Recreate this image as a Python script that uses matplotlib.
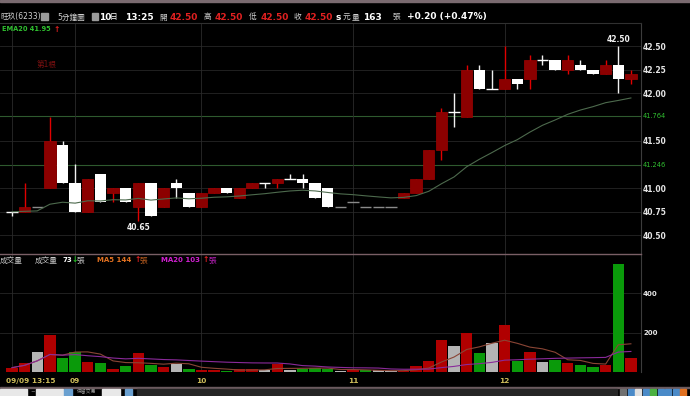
import matplotlib.pyplot as plt
from matplotlib.patches import Rectangle
from matplotlib.transforms import blended_transform_factory
import numpy as np
import pandas as pd

plt.rcParams['font.family'] = ['DejaVu Sans', 'Noto Sans CJK TC']

# 5-minute bars of 旺玖(6233), 09/09 13:15 -> 09/10 13:25
opens = [40.75, 40.75, 40.80, 41.00, 41.45, 41.05, 40.75, 41.15, 40.95, 41.00,
         40.80, 41.05, 40.80, 41.05, 40.95, 40.80, 40.95, 41.00, 40.90, 41.00,
         41.05, 41.05, 41.10, 41.10, 41.05, 41.00, 40.80, 40.85, 40.80, 40.80,
         40.80, 40.90, 40.95, 41.10, 41.40, 41.80, 41.75, 42.25, 42.05, 42.05,
         42.15, 42.15, 42.35, 42.35, 42.25, 42.30, 42.25, 42.20, 42.30, 42.15]
highs = [40.75, 41.05, 40.80, 41.75, 41.50, 41.25, 41.10, 41.15, 41.00, 41.00,
         41.05, 41.05, 41.00, 41.10, 40.95, 40.95, 41.00, 41.00, 41.00, 41.05,
         41.05, 41.10, 41.15, 41.15, 41.05, 41.00, 40.80, 40.85, 40.80, 40.80,
         40.80, 40.95, 41.10, 41.40, 41.85, 42.00, 42.30, 42.30, 42.25, 42.50,
         42.15, 42.40, 42.40, 42.35, 42.40, 42.35, 42.25, 42.35, 42.50, 42.25]
lows = [40.70, 40.75, 40.80, 41.00, 41.05, 40.75, 40.75, 40.85, 40.85, 40.85,
        40.65, 40.70, 40.80, 40.90, 40.80, 40.80, 40.95, 40.95, 40.90, 41.00,
        41.00, 41.00, 41.10, 41.00, 40.90, 40.80, 40.80, 40.85, 40.80, 40.80,
        40.80, 40.90, 40.95, 41.10, 41.30, 41.65, 41.75, 42.05, 42.05, 42.05,
        42.05, 42.05, 42.30, 42.25, 42.20, 42.25, 42.20, 42.20, 42.00, 42.10]
closes = [40.75, 40.80, 40.80, 41.50, 41.05, 40.75, 41.10, 40.85, 41.00, 40.85,
          41.05, 40.70, 41.00, 41.00, 40.80, 40.95, 41.00, 40.95, 41.00, 41.05,
          41.05, 41.10, 41.10, 41.05, 40.90, 40.80, 40.80, 40.85, 40.80, 40.80,
          40.80, 40.95, 41.10, 41.40, 41.80, 41.80, 42.25, 42.05, 42.05, 42.15,
          42.10, 42.35, 42.35, 42.25, 42.35, 42.25, 42.20, 42.30, 42.15, 42.20]
volumes = [22, 46, 102, 187, 71, 102, 49, 46, 14, 29,
           97, 34, 25, 39, 14, 8, 8, 5, 15, 15,
           12, 42, 8, 17, 19, 14, 5, 8, 8, 8,
           5, 5, 29, 54, 161, 132, 197, 95, 146, 238,
           54, 100, 51, 59, 47, 37, 25, 34, 548, 73]
prev_close = 40.70  # close before the first bar shown

xtick_idx = [0, 5, 15, 27, 39]
xtick_lbl = ['09/09 13:15', '09', '10', '11', '12']
price_ticks = [42.50, 42.25, 42.00, 41.50, 41.00, 40.75, 40.50]
ref_lines = [41.764, 41.246]
vol_ticks = [200, 400]

W, H = 690, 396
fig = plt.figure(figsize=(W / 100, H / 100), dpi=100, facecolor='black')


def fx(px):
    return px / W


def fy(py):
    return 1 - py / H


def ftext(x, y, s, color, size, weight='normal', **kw):
    fig.text(fx(x), fy(y), s, color=color, fontsize=size, fontweight=weight,
             va='center', ha='left', **kw)


ax = fig.add_axes([0, fy(254), fx(641), (254 - 23) / H], facecolor='black')
axv = fig.add_axes([0, fy(372), fx(641), (372 - 254) / H], facecolor='black')

x = np.arange(len(closes))
o, h, l, c = map(np.array, (opens, highs, lows, closes))
up = c > o
down = c < o
flat = c == o

# grid
for v in price_ticks:
    ax.axhline(v, color='#262626', lw=0.6, zorder=0)
for v in ref_lines:
    ax.axhline(v, color='#2e5a2e', lw=0.8, zorder=0)
for v in vol_ticks:
    axv.axhline(v, color='#262626', lw=0.6, zorder=0)
for i in xtick_idx:
    ax.axvline(i, color='#2a2a2a', lw=0.6, zorder=0)
    axv.axvline(i, color='#2a2a2a', lw=0.6, zorder=0)

# candles
wick_col = np.where(up, '#e00000', '#f0f0f0')
ax.vlines(x, l, h, colors=wick_col, lw=1.0, zorder=3)
ax.bar(x[up], (c - o)[up], bottom=o[up], width=0.9, color='#8c0000',
       edgecolor='#a00000', lw=0.5, zorder=4)
ax.bar(x[down], (o - c)[down], bottom=c[down], width=0.9, color='white',
       lw=0, zorder=4)
for i in x[flat]:
    col = 'white' if h[i] > l[i] else '#8a8a8a'
    ax.hlines(o[i], i - 0.45, i + 0.45, colors=col, lw=1.0, zorder=4)

ema = pd.Series(closes).ewm(span=20, adjust=False).mean()
ax.plot(x, ema, color='#4d6a4d', lw=0.8, zorder=5)

# max / min labels
i_hi = np.where(h == h.max())[0][-1]
i_lo = np.where(l == l.min())[0][-1]
ax.annotate(f'{h[i_hi]:.2f}', (i_hi, h[i_hi]), xytext=(0, 1.5), textcoords='offset points',
            ha='center', va='bottom', color='#f0f0f0', fontsize=5.5, fontweight='bold')
ax.annotate(f'{l[i_lo]:.2f}', (i_lo, l[i_lo]), xytext=(0, -1.5), textcoords='offset points',
            ha='center', va='top', color='#f0f0f0', fontsize=5.5, fontweight='bold')

ax.set_xlim(-0.95, 49.8)
ax.set_ylim(40.304, 42.743)
ax.yaxis.tick_right()
ax.set_yticks(price_ticks)
ax.set_yticklabels([f'{v:.2f}' for v in price_ticks], color='#e6e6e6',
                   fontsize=5.5, fontweight='bold')
ax.tick_params(axis='y', length=0, pad=1.5)
ax.set_xticks([])
trans = blended_transform_factory(ax.transAxes, ax.transData)
for v in ref_lines:
    ax.text(1.003, v, f'{v:.3f}', transform=trans, color='#30c030', fontsize=4.8,
            va='center', ha='left')

# volume, coloured by change against the previous close
vcol = []
last = prev_close
for cl in closes:
    vcol.append('#b00000' if cl > last else '#0a9a0a' if cl < last else '#b4b4b4')
    last = cl
axv.bar(x, volumes, width=0.9, color=vcol, zorder=3)
vol = pd.Series(volumes)
axv.plot(x, vol.rolling(5, min_periods=1).mean(), color='#8a4535', lw=0.8, zorder=4)
axv.plot(x, vol.rolling(20, min_periods=1).mean(), color='#8a2a9a', lw=0.8, zorder=4)
axv.set_xlim(-0.95, 49.8)
axv.set_ylim(0, 600)
axv.yaxis.tick_right()
axv.set_yticks(vol_ticks)
axv.set_yticklabels([str(v) for v in vol_ticks], color='#e6e6e6', fontsize=5,
                    fontweight='bold')
axv.tick_params(axis='y', length=0, pad=1.5)
axv.set_xticks([])

for a in (ax, axv):
    for s in a.spines.values():
        s.set_visible(False)
    a.spines['right'].set_visible(True)
    a.spines['right'].set_color('#3c3c3c')
ax.spines['top'].set_visible(True)
ax.spines['top'].set_color('#303030')
axv.spines['top'].set_visible(True)
axv.spines['top'].set_color('#7a5f66')
axv.spines['top'].set_linewidth(1.0)

# x labels
xt = blended_transform_factory(axv.transData, fig.transFigure)
for i, s in zip(xtick_idx, xtick_lbl):
    ha = 'left' if i == 0 else 'center'
    xi = i - 0.5 if i == 0 else i
    fig.text(xi, fy(381), s, transform=xt, ha=ha, va='center', color='#cdbd5a',
             fontsize=5.3, fontweight='bold')

# header
ftext(0, 17, '旺玖(6233)', '#d0d0d0', 5.5)
fig.add_artist(Rectangle((fx(41), fy(20)), 7 / W, 7 / H, transform=fig.transFigure,
                         color='#9a9a9a'))
ftext(57, 17, '5分鐘圖', '#d0d0d0', 5.5)
fig.add_artist(Rectangle((fx(92), fy(20)), 6 / W, 7 / H, transform=fig.transFigure,
                         color='#9a9a9a'))
ftext(99, 17, '10', 'white', 6.5, 'bold')
ftext(110, 17, '日', 'white', 5.5)
ftext(125, 17, '13:25', 'white', 6.5, 'bold')
for xl, lab, xv in [(159, '開', 170), (204, '高', 215), (249, '低', 261), (294, '收', 305)]:
    ftext(xl, 17, lab, '#d0d0d0', 5.5)
    ftext(xv, 17, '42.50', '#e02020', 6.5, 'bold')
ftext(335, 17, 's', 'white', 6.5, 'bold')
ftext(343, 17, '元', '#d0d0d0', 5.5)
ftext(352, 17, '量', '#d0d0d0', 5.5)
ftext(363, 17, '163', 'white', 6.5, 'bold')
ftext(393, 17, '張', '#d0d0d0', 5.5)
ftext(407, 17, '+0.20 (+0.47%)', 'white', 6.5, 'bold')

ftext(2, 29, 'EMA20 41.95', '#30c030', 4.8, 'bold')
ftext(54, 29, '↑', '#e02020', 5.5, 'bold')
ftext(37, 64, '第1根', '#7a1010', 5.5)

# volume header
ftext(0, 260, '成交量', '#c8c8c8', 5.5)
ftext(35, 260, '成交量', '#c8c8c8', 5.5)
ftext(62, 260, '73', 'white', 5, 'bold')
ftext(72, 260, '↓', '#20c020', 5.5, 'bold')
ftext(77, 260, '張', '#c8c8c8', 5.5)
ftext(97, 260, 'MA5 144', '#e07020', 5, 'bold')
ftext(135, 260, '↑', '#e02020', 5.5, 'bold')
ftext(140, 260, '張', '#c06020', 5.5)
ftext(161, 260, 'MA20 103', '#d020d0', 5, 'bold')
ftext(203, 260, '↑', '#e02020', 5.5, 'bold')
ftext(209, 260, '張', '#c020c0', 5.5)

# top border and bottom toolbar
fig.add_artist(Rectangle((0, fy(2)), 1, 2 / H, transform=fig.transFigure, color='#7a6a70'))
fig.add_artist(Rectangle((0, fy(387.5)), 1, 1 / H, transform=fig.transFigure, color='#6a5a5e'))
for x0, x1, col in [(0, 27, '#e8e8e8'), (36, 63, '#e8e8e8'), (64, 72, '#6aa0d0'),
                    (102, 120, '#e8e8e8'), (125, 132, '#6aa0d0'), (137, 617, '#262626')]:
    fig.add_artist(Rectangle((fx(x0), fy(395.5)), (x1 - x0) / W, 7 / H,
                             transform=fig.transFigure, color=col))
ftext(30, 392, '~', '#c8c8c8', 4)
ftext(77, 392, '保留交易', '#a0a0a0', 3.5)
for k, col in enumerate(['#707070', '#4a8ac8', '#e0e0e0', '#4a8ac8', '#4ab040',
                         '#4a8ac8', '#4a8ac8', '#4a8ac8', '#e07020']):
    fig.add_artist(Rectangle((fx(620 + k * 7.5), fy(395.5)), 6 / W, 7 / H,
                             transform=fig.transFigure, color=col))

fig.savefig('out.png', dpi=100, facecolor='black')
